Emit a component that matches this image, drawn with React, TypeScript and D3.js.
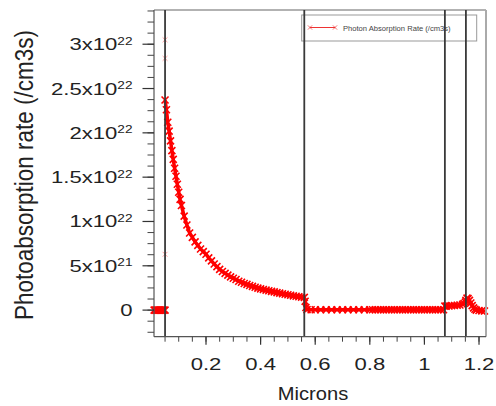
import React from 'react';
import * as d3 from 'd3';

// photon absorption rate, in units of 1e22 /cm3s
const microns = [
  0.01, 0.014, 0.018, 0.022, 0.026, 0.03, 0.034, 0.038, 0.042, 0.046, 0.05,
  0.05, 0.055, 0.06, 0.065, 0.07, 0.075, 0.08, 0.085, 0.09, 0.095, 0.1, 0.105, 0.11,
  0.12, 0.13, 0.14, 0.15, 0.16, 0.17, 0.18, 0.19, 0.2, 0.21, 0.22, 0.23, 0.24, 0.25,
  0.26, 0.27, 0.28, 0.29, 0.3, 0.31, 0.32, 0.33, 0.34, 0.35, 0.36, 0.37, 0.38, 0.39,
  0.4, 0.41, 0.42, 0.43, 0.44, 0.45, 0.46, 0.47, 0.48, 0.49, 0.5, 0.51, 0.52, 0.53,
  0.54, 0.55, 0.56, 0.563, 0.566,
  0.57, 0.585, 0.6, 0.62, 0.64, 0.66, 0.68, 0.7, 0.72, 0.74, 0.76, 0.78, 0.8, 0.81,
  0.82, 0.83, 0.84, 0.85, 0.86, 0.87, 0.88, 0.89, 0.9, 0.91, 0.92, 0.93, 0.94, 0.95,
  0.96, 0.97, 0.98, 0.99, 1.0, 1.01, 1.02, 1.03, 1.04, 1.05, 1.06, 1.07, 1.075,
  1.08, 1.09, 1.1, 1.11, 1.12, 1.13, 1.14, 1.145, 1.15,
  1.152, 1.156, 1.16, 1.165, 1.17, 1.175, 1.18, 1.185, 1.19, 1.2, 1.21, 1.22,
];
const rate = [
  0, 0, 0, 0, 0, 0, 0, 0, 0, 0, 0,
  2.37, 2.26, 2.12, 2.02, 1.91, 1.8, 1.7, 1.6, 1.51, 1.42, 1.33, 1.25, 1.18,
  1.06, 0.96, 0.87, 0.82, 0.77, 0.73, 0.69, 0.66, 0.63, 0.59, 0.555, 0.52, 0.49, 0.46,
  0.435, 0.415, 0.395, 0.375, 0.36, 0.345, 0.325, 0.315, 0.3, 0.29, 0.278, 0.268, 0.258, 0.248,
  0.24, 0.232, 0.225, 0.218, 0.211, 0.205, 0.198, 0.192, 0.185, 0.179, 0.173, 0.167, 0.161, 0.156,
  0.151, 0.147, 0.143, 0.1, 0.03,
  0.005, 0.004, 0.004, 0.004, 0.004, 0.004, 0.004, 0.004, 0.004, 0.004, 0.004, 0.004, 0.004, 0.004,
  0.004, 0.004, 0.004, 0.004, 0.004, 0.004, 0.004, 0.004, 0.004, 0.004, 0.004, 0.004, 0.004, 0.004,
  0.004, 0.004, 0.004, 0.004, 0.004, 0.004, 0.004, 0.004, 0.004, 0.004, 0.004, 0.004, 0.045,
  0.045, 0.047, 0.05, 0.052, 0.055, 0.058, 0.065, 0.075, 0.09,
  0.11, 0.135, 0.13, 0.11, 0.08, 0.05, 0.025, 0.01, 0, -0.005, -0.008, -0.01,
];
// index where the curve restarts at the first interface
const firstBreak = 11;
// stray points at the first interface
const strayX = [0.05, 0.05, 0.05];
const strayY = [3.05, 2.84, 0.63];

// material boundaries (microns)
const boundaries = [0.05, 0.56, 1.075, 1.152];

const xTicks = [0.2, 0.4, 0.6, 0.8, 1.0, 1.2];
const xTickLabels = ['0.2', '0.4', '0.6', '0.8', '1', '1.2'];
const yTicks = [0, 0.5, 1, 1.5, 2, 2.5, 3];
const yTickBase = ['0', '5x10', '1x10', '1.5x10', '2x10', '2.5x10', '3x10'];
const yTickExp = ['', '21', '22', '22', '22', '22', '22'];

const W = 496;
const H = 406;
const font = "'Liberation Sans', Arial, sans-serif";

const cross = 'M-3.5,-3.5L3.5,3.5M-3.5,3.5L3.5,-3.5';

export default function App() {
  const x = d3.scaleLinear().domain([0.0095, 1.2256]).range([154, 486]);
  const y = d3.scaleLinear().domain([-0.3, 3.386]).range([336.7, 10]);
  const [x0, x1] = x.range();
  const [yb, yt] = y.range();

  const pts = microns.map((m, i) => ({ m, r: rate[i] }));
  const line = d3.line<{ m: number; r: number }>().x(d => x(d.m)).y(d => y(d.r));
  const segs = [pts.slice(0, firstBreak), pts.slice(firstBreak)];

  const xMinor = d3.range(0.05, 1.2256, 0.05);
  const yMinor = d3.range(-0.25, 3.386, 0.125);

  return (
    <svg width={W} height={H} style={{ position: 'absolute', left: 0, top: 0, background: '#fff' }}
      fontFamily={font}>
      {/* legend */}
      <rect x={301.7} y={15} width={175} height={26} fill="#fff" stroke="#999" strokeWidth={1} />
      <line x1={310} x2={335} y1={27.5} y2={27.5} stroke="#ee3333" strokeWidth={1} />
      <path d={cross} transform="translate(310,27.5) scale(0.6)" stroke="#ee3333" strokeWidth={1.2} />
      <path d={cross} transform="translate(335,27.5) scale(0.6)" stroke="#ee3333" strokeWidth={1.2} />
      <text x={343} y={30.5} fontSize={7.6} fill="#444">Photon Absorption Rate (/cm3s)</text>

      {/* data */}
      {segs.map((s, i) => (
        <path key={i} d={line(s) ?? ''} fill="none" stroke="#ff0000" strokeWidth={3.5} />
      ))}
      {pts.map((d, i) => (
        <path key={i} d={cross} transform={`translate(${x(d.m)},${y(d.r)})`} stroke="#ff0000"
          strokeWidth={1.6} fill="none" />
      ))}
      {strayX.map((m, i) => (
        <path key={'s' + i} d={cross} transform={`translate(${x(m)},${y(strayY[i])}) scale(0.7)`}
          stroke="#ff0000" strokeOpacity={0.45} strokeWidth={1.2} fill="none" />
      ))}

      {/* frame */}
      <line x1={x0} x2={x1} y1={yt} y2={yt} stroke="#999" strokeWidth={1.5} />
      <line x1={x1} x2={x1} y1={yt} y2={yb} stroke="#aaa" strokeWidth={2} />
      {boundaries.map(b => (
        <line key={b} x1={x(b)} x2={x(b)} y1={yt} y2={yb} stroke="#3a3a3a" strokeWidth={1.8} />
      ))}
      <line x1={x0} x2={x0} y1={yt} y2={yb} stroke="#555" strokeWidth={1.2} />
      <line x1={x0} x2={x1} y1={yb} y2={yb} stroke="#555" strokeWidth={1.2} />

      {/* x axis */}
      {xMinor.map(v => (
        <line key={v} x1={x(v)} x2={x(v)} y1={yb} y2={yb + 5} stroke="#444" strokeWidth={1} />
      ))}
      {xTicks.map((v, i) => (
        <g key={v} transform={`translate(${x(v)},0)`}>
          <line y1={yb} y2={yb + 8} stroke="#333" strokeWidth={1.2} />
          <text transform="translate(0,370) scale(1.3,1)" textAnchor="middle" fontSize={17} fill="#222">
            {xTickLabels[i]}
          </text>
        </g>
      ))}
      <text transform="translate(313,400) scale(1.15,1)" textAnchor="middle" fontSize={17.5} fill="#222">
        Microns
      </text>

      {/* y axis */}
      {yMinor.map(v => (
        <line key={v} x1={x0 - 6.5} x2={x0} y1={y(v)} y2={y(v)} stroke="#444" strokeWidth={1} />
      ))}
      {yTicks.map((v, i) => (
        <g key={v} transform={`translate(0,${y(v)})`}>
          <line x1={x0 - 11.5} x2={x0} stroke="#333" strokeWidth={1.2} />
          <text transform="translate(132.5,6) scale(1.3,1)" textAnchor="end" fontSize={17} fill="#222">
            {yTickBase[i]}
            {yTickExp[i] && (
              <tspan fontSize={10.5} dy={-5.5}>{yTickExp[i]}</tspan>
            )}
          </text>
        </g>
      ))}
      <text transform="translate(33,175) rotate(-90) scale(1,1.15)" textAnchor="middle" fontSize={22.5}
        fill="#222">
        Photoabsorption rate (/cm3s)
      </text>
    </svg>
  );
}
